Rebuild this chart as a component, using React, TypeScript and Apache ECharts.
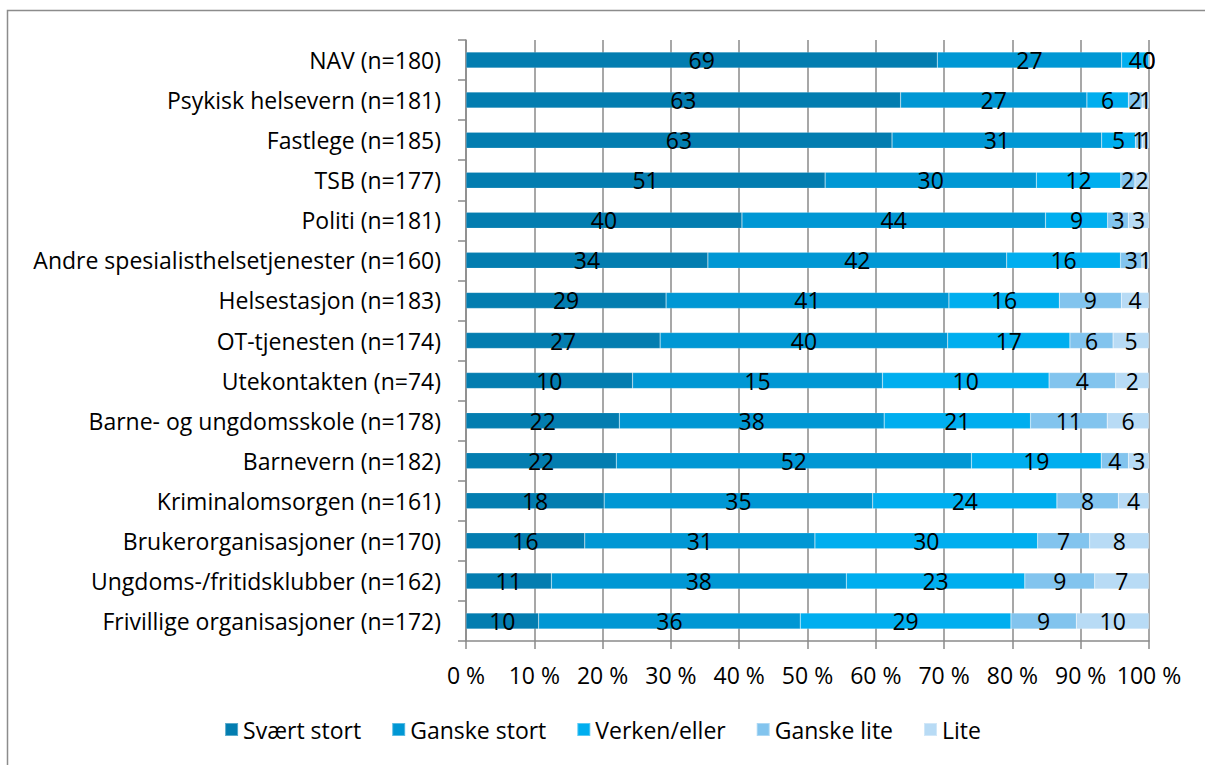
import React, { useEffect, useRef } from "react";
import * as echarts from "echarts";

const categories = [
  "NAV (n=180)",
  "Psykisk helsevern (n=181)",
  "Fastlege (n=185)",
  "TSB (n=177)",
  "Politi (n=181)",
  "Andre spesialisthelsetjenester (n=160)",
  "Helsestasjon (n=183)",
  "OT-tjenesten (n=174)",
  "Utekontakten (n=74)",
  "Barne- og ungdomsskole (n=178)",
  "Barnevern (n=182)",
  "Kriminalomsorgen (n=161)",
  "Brukerorganisasjoner (n=170)",
  "Ungdoms-/fritidsklubber (n=162)",
  "Frivillige organisasjoner (n=172)",
];

const seriesNames = ["Svært stort", "Ganske stort", "Verken/eller", "Ganske lite", "Lite"];

const sværtStort = [69, 63, 63, 51, 40, 34, 29, 27, 10, 22, 22, 18, 16, 11, 10];
const ganskeStort = [27, 27, 31, 30, 44, 42, 41, 40, 15, 38, 52, 35, 31, 38, 36];
const verkenEller = [4, 6, 5, 12, 9, 16, 16, 17, 10, 21, 19, 24, 30, 23, 29];
const ganskeLite = [0, 2, 1, 2, 3, 3, 9, 6, 4, 11, 4, 8, 7, 9, 9];
const lite = [0, 1, 1, 2, 3, 1, 4, 5, 2, 6, 3, 4, 8, 7, 10];

const xTicks = [0, 10, 20, 30, 40, 50, 60, 70, 80, 90, 100];

const colors = ["#037DB0", "#0097D4", "#00AEEF", "#82C4EE", "#B8DBF5"];

const FONT = "Open Sans";
const FS = 23;

export default function App() {
  const ref = useRef<HTMLDivElement>(null);

  useEffect(() => {
    if (!ref.current) return;
    const chart = echarts.init(ref.current, null, { renderer: "svg" });
    const raw = [sværtStort, ganskeStort, verkenEller, ganskeLite, lite];
    const totals = categories.map((_, i) => raw.reduce((s, arr) => s + arr[i], 0));

    const series = raw.map((arr, si) => ({
      name: seriesNames[si],
      type: "bar",
      stack: "total",
      barWidth: 16,
      itemStyle: { color: colors[si], borderColor: "rgba(255,255,255,0.35)", borderWidth: 0.5 },
      label: {
        show: true,
        position: "inside",
        color: "#000",
        fontFamily: FONT,
        fontSize: FS,
        formatter: (p: any) => String(arr[p.dataIndex]),
      },
      data: arr.map((v, i) => (v / totals[i]) * 100),
    }));

    chart.setOption({
      animation: false,
      textStyle: { fontFamily: FONT },
      graphic: [
        {
          type: "rect",
          shape: { x: 7.5, y: 10.5, width: 1210, height: 770 },
          style: { fill: "none", stroke: "#8c8c8c", lineWidth: 1.5 },
          silent: true,
        },
      ],
      legend: {
        bottom: 19,
        left: "center",
        itemWidth: 13,
        itemHeight: 13,
        itemGap: 30,
        icon: "rect",
        textStyle: { fontFamily: FONT, fontSize: FS, color: "#000" },
        data: seriesNames,
      },
      grid: { left: 466, right: 56, top: 40, bottom: 124, containLabel: false },
      xAxis: {
        type: "value",
        min: 0,
        max: 100,
        interval: 10,
        axisLine: { show: true, lineStyle: { color: "#8a8a8a", width: 1.5 } },
        axisTick: { show: true, length: 8, lineStyle: { color: "#8a8a8a", width: 1.5 } },
        splitLine: { show: true, lineStyle: { color: "#8a8a8a", width: 1.5 } },
        axisLabel: {
          color: "#000",
          fontFamily: FONT,
          fontSize: FS,
          margin: 22,
          formatter: (v: number) => (xTicks.includes(v) ? `${v} %` : ""),
        },
      },
      yAxis: {
        type: "category",
        inverse: true,
        data: categories,
        axisLine: { show: true, lineStyle: { color: "#8a8a8a", width: 1.5 } },
        axisTick: { show: true, length: 8, lineStyle: { color: "#8a8a8a", width: 1.5 } },
        axisLabel: { color: "#000", fontFamily: FONT, fontSize: FS, margin: 25 },
        splitLine: { show: false },
      },
      series,
    });
    return () => chart.dispose();
  }, []);

  return (
    <div
      ref={ref}
      style={{ position: "absolute", left: 0, top: 0, width: 1205, height: 765 }}
    />
  );
}
